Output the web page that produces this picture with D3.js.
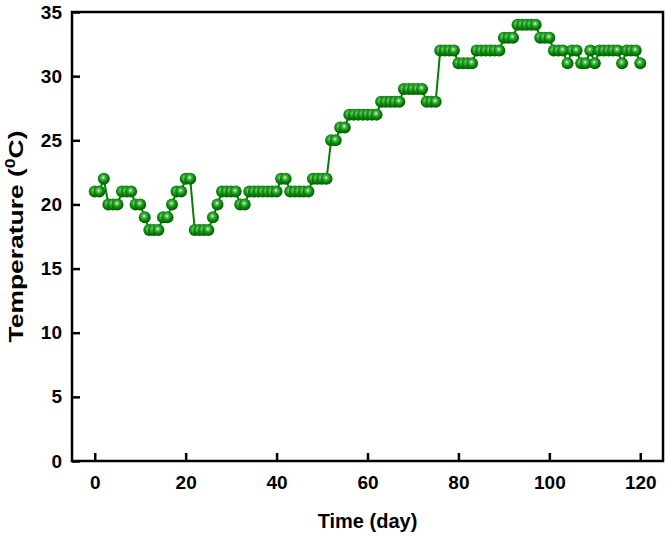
<!DOCTYPE html>
<html>
<head>
<meta charset="utf-8">
<script src="https://cdn.jsdelivr.net/npm/d3@7"></script>
<style>
  body { margin: 0; background: #fff; }
  text { font-family: "Liberation Sans Narrow", "Liberation Sans", Arial, sans-serif; font-weight: bold; }
</style>
</head>
<body>
<div id="chart"></div>
<script>
// temperature runs: [first day, last day] and the value held over each run
const runDays = [
  [0, 1], [2, 2], [3, 5], [6, 8], [9, 10], [11, 11], [12, 14], [15, 16], [17, 17],
  [18, 19], [20, 21], [22, 25], [26, 26], [27, 27], [28, 31], [32, 33], [34, 40],
  [41, 42], [43, 47], [48, 51], [52, 53], [54, 55], [56, 62], [63, 67], [68, 72],
  [73, 75], [76, 79], [80, 83], [84, 89], [90, 92], [93, 97], [98, 100], [101, 103],
  [104, 104], [105, 106], [107, 108], [109, 109], [110, 110], [111, 115], [116, 116],
  [117, 119], [120, 120]
];
const runTemps = [
  21, 22, 20, 21, 20, 19, 18, 19, 20,
  21, 22, 18, 19, 20, 21, 20, 21,
  22, 21, 22, 25, 26, 27, 28, 29,
  28, 32, 31, 32, 33, 34, 33, 32,
  31, 32, 31, 32, 31, 32, 31,
  32, 31
];
const xTicks = [0, 20, 40, 60, 80, 100, 120];
const yTicks = [0, 5, 10, 15, 20, 25, 30, 35];

const data = [];
runDays.forEach((r, i) => {
  for (let d = r[0]; d <= r[1]; d++) data.push({ day: d, temp: runTemps[i] });
});

const width = 666, height = 536;
const margin = { left: 72, right: 3, top: 12, bottom: 75 };

const svg = d3.select("#chart").append("svg")
  .attr("width", width).attr("height", height);

const defs = svg.append("defs");
const grad = defs.append("radialGradient").attr("id", "ball")
  .attr("cx", "45%").attr("cy", "40%").attr("r", "60%");
grad.append("stop").attr("offset", "0%").attr("stop-color", "#f4fff4");
grad.append("stop").attr("offset", "22%").attr("stop-color", "#5cc05c");
grad.append("stop").attr("offset", "60%").attr("stop-color", "#0a8a0a");
grad.append("stop").attr("offset", "100%").attr("stop-color", "#005a00");

const x = d3.scaleLinear().domain([-5, 125]).range([margin.left, width - margin.right]);
const y = d3.scaleLinear().domain([0, 35]).range([height - margin.bottom, margin.top]);

// line
svg.append("path")
  .datum(data)
  .attr("fill", "none")
  .attr("stroke", "#008000")
  .attr("stroke-width", 2)
  .attr("d", d3.line().x(d => x(d.day)).y(d => y(d.temp)));

// markers
svg.append("g").selectAll("circle")
  .data(data)
  .enter()
  .append("circle")
  .attr("cx", d => x(d.day))
  .attr("cy", d => y(d.temp))
  .attr("r", 6)
  .attr("fill", "url(#ball)");

// axes
const xAxis = svg.append("g")
  .attr("transform", `translate(0,${height - margin.bottom})`)
  .call(d3.axisBottom(x).tickValues(xTicks).tickSizeInner(-8).tickSizeOuter(0).tickPadding(15));
const yAxis = svg.append("g")
  .attr("transform", `translate(${margin.left},0)`)
  .call(d3.axisLeft(y).tickValues(yTicks).tickSizeInner(-8).tickSizeOuter(0).tickPadding(10));

[xAxis, yAxis].forEach(a => {
  a.select(".domain").remove();
  a.selectAll(".tick line").attr("stroke", "#000").attr("stroke-width", 2.5);
  a.selectAll(".tick text").attr("fill", "#000").style("font-size", "19px");
});

// frame
svg.append("rect")
  .attr("x", margin.left).attr("y", margin.top)
  .attr("width", width - margin.right - margin.left)
  .attr("height", height - margin.bottom - margin.top)
  .attr("fill", "none").attr("stroke", "#000").attr("stroke-width", 2.5);

// titles
svg.append("text")
  .attr("x", (margin.left + width - margin.right) / 2)
  .attr("y", 528)
  .attr("text-anchor", "middle")
  .style("font-size", "20px")
  .text("Time (day)");

const yTitle = svg.append("text")
  .attr("transform", `translate(23,${(margin.top + height - margin.bottom) / 2}) rotate(-90)`)
  .attr("text-anchor", "middle")
  .attr("textLength", 212)
  .attr("lengthAdjust", "spacingAndGlyphs")
  .style("font-size", "21px");
yTitle.append("tspan").text("Temperature (");
yTitle.append("tspan").attr("dy", -8).style("font-size", "14px").text("0");
yTitle.append("tspan").attr("dy", 8).text("C)");
</script>
</body>
</html>
